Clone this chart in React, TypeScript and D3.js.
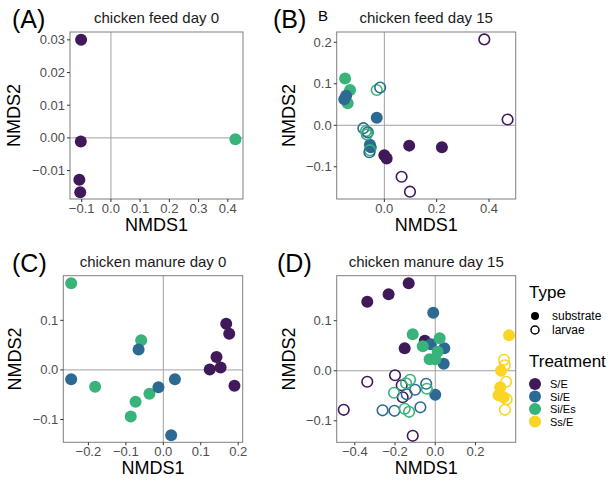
import React from "react";
import * as d3 from "d3";

const treatments = ["S/E", "Si/E", "Si/Es", "Ss/E"];
const treatmentColors = ["#40195A", "#2D6A93", "#38B47A", "#FBD524"];
const types = ["substrate", "larvae"];

// [NMDS1, NMDS2, treatment, type]  type: s = substrate (filled), l = larvae (open)
type Pt = [number, number, string, string];

const feedDay0: Pt[] = [
  [-0.102, 0.030, "S/E", "s"],
  [-0.103, -0.0011, "S/E", "s"],
  [-0.108, -0.0128, "S/E", "s"],
  [-0.105, -0.0166, "S/E", "s"],
  [0.426, -0.0004, "Si/Es", "s"],
];

const feedDay15: Pt[] = [
  [-0.150, 0.113, "Si/Es", "s"],
  [-0.131, 0.085, "Si/Es", "s"],
  [-0.140, 0.053, "Si/Es", "s"],
  [-0.146, 0.071, "Si/E", "s"],
  [-0.153, 0.063, "Si/E", "s"],
  [-0.029, 0.018, "Si/E", "s"],
  [-0.055, -0.047, "Si/E", "s"],
  [-0.052, -0.053, "Si/E", "s"],
  [0.0, -0.072, "S/E", "s"],
  [0.009, -0.080, "S/E", "s"],
  [0.095, -0.049, "S/E", "s"],
  [0.220, -0.053, "S/E", "s"],
  [0.382, 0.207, "S/E", "l"],
  [0.471, 0.014, "S/E", "l"],
  [0.066, -0.124, "S/E", "l"],
  [0.098, -0.160, "S/E", "l"],
  [-0.029, 0.085, "Si/Es", "l"],
  [-0.016, 0.091, "Si/E", "l"],
  [-0.080, -0.007, "Si/E", "l"],
  [-0.070, -0.014, "Si/Es", "l"],
  [-0.063, -0.017, "Si/E", "l"],
  [-0.067, -0.022, "Si/Es", "l"],
  [-0.055, -0.060, "Si/Es", "l"],
  [-0.057, -0.065, "Si/E", "l"],
];

const manureDay0: Pt[] = [
  [-0.246, 0.175, "Si/Es", "s"],
  [-0.246, -0.019, "Si/E", "s"],
  [-0.182, -0.034, "Si/Es", "s"],
  [-0.059, 0.060, "Si/Es", "s"],
  [-0.066, 0.041, "Si/E", "s"],
  [-0.074, -0.064, "Si/Es", "s"],
  [-0.087, -0.094, "Si/Es", "s"],
  [-0.037, -0.048, "Si/Es", "s"],
  [-0.013, -0.035, "Si/E", "s"],
  [0.031, -0.019, "Si/E", "s"],
  [0.021, -0.132, "Si/E", "s"],
  [0.168, 0.093, "S/E", "s"],
  [0.176, 0.073, "S/E", "s"],
  [0.142, 0.026, "S/E", "s"],
  [0.124, 0.001, "S/E", "s"],
  [0.153, 0.005, "S/E", "s"],
  [0.190, -0.032, "S/E", "s"],
];

const manureDay15: Pt[] = [
  [-0.338, 0.138, "S/E", "s"],
  [-0.232, 0.153, "S/E", "s"],
  [-0.132, 0.175, "S/E", "s"],
  [-0.152, 0.045, "S/E", "s"],
  [-0.052, 0.060, "S/E", "s"],
  [-0.010, 0.116, "Si/E", "s"],
  [-0.022, 0.053, "Si/E", "s"],
  [0.045, 0.045, "Si/E", "s"],
  [0.042, 0.014, "Si/E", "s"],
  [0.0, -0.048, "Si/E", "s"],
  [-0.112, 0.073, "Si/Es", "s"],
  [-0.062, 0.049, "Si/Es", "s"],
  [0.022, 0.065, "Si/Es", "s"],
  [0.012, 0.038, "Si/Es", "s"],
  [-0.028, 0.023, "Si/Es", "s"],
  [0.0, 0.023, "Si/Es", "s"],
  [-0.455, -0.078, "S/E", "l"],
  [-0.338, -0.022, "S/E", "l"],
  [-0.200, -0.009, "S/E", "l"],
  [-0.167, -0.029, "S/E", "l"],
  [-0.162, -0.053, "S/E", "l"],
  [-0.112, -0.130, "S/E", "l"],
  [-0.262, -0.079, "Si/E", "l"],
  [-0.203, -0.080, "Si/E", "l"],
  [-0.142, -0.047, "Si/E", "l"],
  [-0.100, -0.038, "Si/E", "l"],
  [-0.045, -0.026, "Si/E", "l"],
  [-0.074, -0.073, "Si/E", "l"],
  [-0.125, -0.018, "Si/Es", "l"],
  [-0.205, -0.044, "Si/Es", "l"],
  [-0.152, -0.076, "Si/Es", "l"],
  [-0.130, -0.082, "Si/Es", "l"],
  [-0.042, -0.036, "Si/Es", "l"],
  [-0.145, -0.025, "Si/Es", "l"],
  [0.367, 0.071, "Ss/E", "s"],
  [0.327, 0.0, "Ss/E", "s"],
  [0.323, -0.033, "Ss/E", "s"],
  [0.315, -0.049, "Ss/E", "s"],
  [0.340, -0.053, "Ss/E", "s"],
  [0.342, 0.022, "Ss/E", "l"],
  [0.346, 0.011, "Ss/E", "l"],
  [0.352, -0.022, "Ss/E", "l"],
  [0.355, -0.057, "Ss/E", "l"],
  [0.346, -0.078, "Ss/E", "l"],
];

const xTicksA = [-0.1, 0, 0.1, 0.2, 0.3, 0.4];
const yTicksA = [-0.01, 0, 0.01, 0.02, 0.03];
const xTicksB = [0, 0.2, 0.4];
const yTicksB = [-0.1, 0, 0.1, 0.2];
const xTicksC = [-0.2, -0.1, 0, 0.1, 0.2];
const yTicksC = [-0.1, 0, 0.1];
const xTicksD = [-0.4, -0.2, 0, 0.2];
const yTicksD = [-0.1, 0, 0.1];

const FONT = "Liberation Sans, Arial, Helvetica, sans-serif";
const colorScale = d3.scaleOrdinal<string, string>().domain(treatments).range(treatmentColors);

function fmt(v: number, digits: number) {
  const s = Math.abs(v).toFixed(digits);
  return v < -1e-12 ? "\u2212" + s : s;
}

interface PanelProps {
  tag: string;
  extra?: string;
  title: string;
  data: Pt[];
  box: [number, number, number, number]; // left, top, right, bottom
  xDomain: [number, number];
  yDomain: [number, number];
  xTicks: number[];
  yTicks: number[];
  xDigits: number;
  yDigits: number;
  tagX: number;
}

function Panel(p: PanelProps) {
  const [l, t, r, b] = p.box;
  const x = d3.scaleLinear().domain(p.xDomain).range([l, r]);
  const y = d3.scaleLinear().domain(p.yDomain).range([b, t]);
  const cx = (l + r) / 2;
  const cy = (t + b) / 2;
  return (
    <g>
      <text x={p.tagX} y={t - 4} fontSize={25} fill="#000" fontFamily={FONT}>{p.tag}</text>
      {p.extra && (
        <text x={p.tagX + 45} y={t - 11} fontSize={15} fill="#000" fontFamily={FONT}>{p.extra}</text>
      )}
      <text x={cx} y={t - 9} fontSize={15} textAnchor="middle" fill="#1A1A1A" fontFamily={FONT}>{p.title}</text>
      <line x1={x(0)} x2={x(0)} y1={t} y2={b} stroke="#A0A0A0" strokeWidth={1} />
      <line x1={l} x2={r} y1={y(0)} y2={y(0)} stroke="#A0A0A0" strokeWidth={1} />
      {p.data.map((d, i) => {
        const c = colorScale(d[2]);
        return d[3] === "s" ? (
          <circle key={i} cx={x(d[0])} cy={y(d[1])} r={6} fill={c} />
        ) : (
          <circle key={i} cx={x(d[0])} cy={y(d[1])} r={5.3} fill="none" stroke={c} strokeWidth={1.6} />
        );
      })}
      <rect x={l} y={t} width={r - l} height={b - t} fill="none" stroke="#7F7F7F" strokeWidth={1} />
      {p.xTicks.map((v) => (
        <g key={"x" + v}>
          <line x1={x(v)} x2={x(v)} y1={b} y2={b + 3} stroke="#333" strokeWidth={1} />
          <text x={x(v)} y={b + 14} fontSize={13} textAnchor="middle" fill="#4D4D4D" fontFamily={FONT}>{fmt(v, p.xDigits)}</text>
        </g>
      ))}
      {p.yTicks.map((v) => (
        <g key={"y" + v}>
          <line x1={l - 3} x2={l} y1={y(v)} y2={y(v)} stroke="#333" strokeWidth={1} />
          <text x={l - 5} y={y(v) + 4.5} fontSize={13} textAnchor="end" fill="#4D4D4D" fontFamily={FONT}>{fmt(v, p.yDigits)}</text>
        </g>
      ))}
      <text x={cx} y={b + 32} fontSize={18} textAnchor="middle" fill="#000" fontFamily={FONT}>NMDS1</text>
      <text transform={`translate(${l - 42 - (p.yDigits === 2 ? 8 : 0)},${cy}) rotate(-90)`} fontSize={18} textAnchor="middle" fill="#000" fontFamily={FONT}>NMDS2</text>
    </g>
  );
}

export default function App() {
  return (
    <svg width={613} height={481} style={{ position: "absolute", left: 0, top: 0, background: "#fff" }}>
      <rect width={613} height={481} fill="#fff" />
      <Panel tag="(A)" title="chicken feed day 0" data={feedDay0} box={[70, 32, 243, 199]}
        xDomain={[-0.14, 0.452]} yDomain={[-0.0187, 0.0324]} xTicks={xTicksA} yTicks={yTicksA}
        xDigits={1} yDigits={2} tagX={12} />
      <Panel tag="(B)" extra="B" title="chicken feed day 15" data={feedDay15} box={[336.7, 32, 515.7, 199]}
        xDomain={[-0.182, 0.502]} yDomain={[-0.1776, 0.2248]} xTicks={xTicksB} yTicks={yTicksB}
        xDigits={1} yDigits={1} tagX={273} />
      <Panel tag="(C)" title="chicken manure day 0" data={manureDay0} box={[63.3, 275.7, 242.7, 442.3]}
        xDomain={[-0.267, 0.212]} yDomain={[-0.146, 0.19]} xTicks={xTicksC} yTicks={yTicksC}
        xDigits={1} yDigits={1} tagX={12} />
      <Panel tag="(D)" title="chicken manure day 15" data={manureDay15} box={[336.7, 275.7, 515.7, 442.3]}
        xDomain={[-0.49, 0.4]} yDomain={[-0.143, 0.19]} xTicks={xTicksD} yTicks={yTicksD}
        xDigits={1} yDigits={1} tagX={277} />
      <g fontFamily={FONT}>
        <text x={529} y={298} fontSize={17} fill="#000">Type</text>
        {types.map((tname, i) => (
          <g key={tname}>
            {i === 0 ? (
              <circle cx={535} cy={316 + i * 14} r={4} fill="#000" />
            ) : (
              <circle cx={535} cy={316 + i * 14} r={4} fill="none" stroke="#000" strokeWidth={1.5} />
            )}
            <text x={552} y={320 + i * 14} fontSize={12} fill="#000">{tname}</text>
          </g>
        ))}
        <text x={529} y={367} fontSize={17} fill="#000">Treatment</text>
        {treatments.map((tr, i) => (
          <g key={tr}>
            <circle cx={535} cy={384 + i * 12.5} r={6} fill={colorScale(tr)} />
            <text x={550} y={388 + i * 12.5} fontSize={11} fill="#000">{tr}</text>
          </g>
        ))}
      </g>
    </svg>
  );
}
